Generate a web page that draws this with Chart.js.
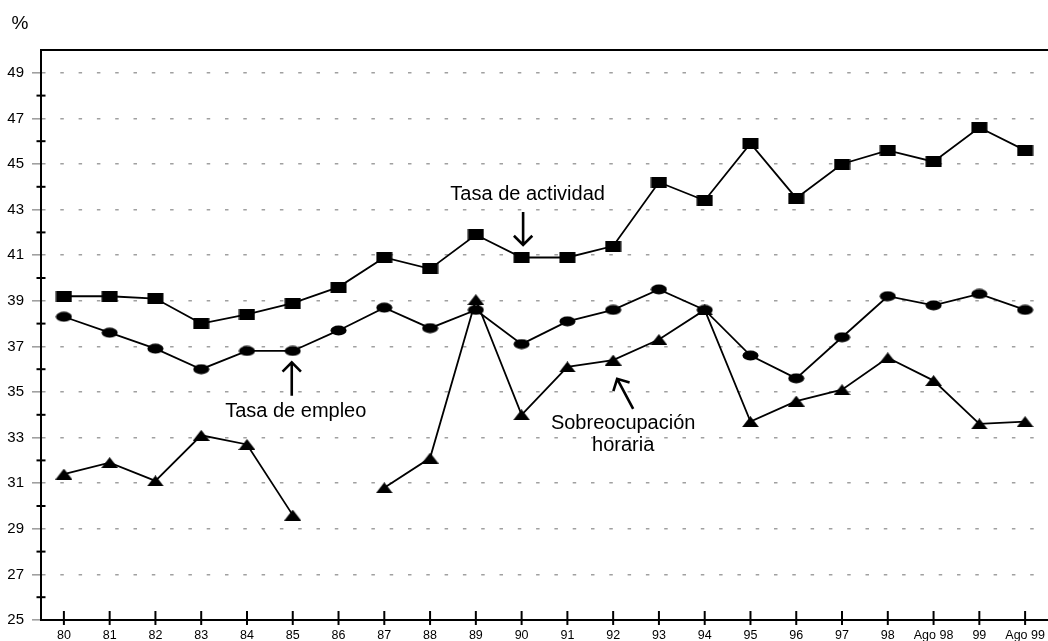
<!DOCTYPE html>
<html>
<head>
<meta charset="utf-8">
<script src="https://cdn.jsdelivr.net/npm/chart.js@4/dist/chart.umd.min.js"></script>
<style>
  html, body { margin: 0; padding: 0; background: #fff; overflow: hidden; width: 1048px; height: 641px; }
  #wrap { width: 1048px; height: 641px; position: absolute; left: 0; top: 0; }
  #c { display: block; }
</style>
</head>
<body>
<div id="wrap"><canvas id="c"></canvas></div>
<script>
const categories = ['80','81','82','83','84','85','86','87','88','89','90','91','92','93','94','95','96','97','98','Ago 98','99','Ago 99'];
const tasaActividad = [39.2, 39.2, 39.1, 38.0, 38.4, 38.9, 39.6, 40.9, 40.4, 41.9, 40.9, 40.9, 41.4, 44.2, 43.4, 45.9, 43.5, 45.0, 45.6, 45.1, 46.6, 45.6];
const tasaEmpleo = [38.3, 37.6, 36.9, 36.0, 36.8, 36.8, 37.7, 38.7, 37.8, 38.6, 37.1, 38.1, 38.6, 39.5, 38.6, 36.6, 35.6, 37.4, 39.2, 38.8, 39.3, 38.6];
const sobreocupacion = [31.4, 31.9, 31.1, 33.1, 32.7, 29.6, null, 30.8, 32.1, 39.05, 34.0, 36.1, 36.4, 37.3, 38.6, 33.7, 34.6, 35.1, 36.5, 35.5, 33.6, 33.7];
const yMin = 25, yMax = 50;

const FONT = "'Liberation Sans', Arial, sans-serif";

function marker(kind) {
  const c = document.createElement('canvas');
  c.width = 17; c.height = 11;
  const g = c.getContext('2d');
  g.fillStyle = '#000';
  g.beginPath();
  if (kind === 'rect') {
    g.rect(0.5, 0, 16, 11);
  } else if (kind === 'ellipse') {
    g.ellipse(8.5, 5.5, 8, 5, 0, 0, Math.PI * 2);
  } else {
    g.moveTo(8.5, 0); g.lineTo(17, 11); g.lineTo(0, 11); g.closePath();
  }
  g.fill();
  return c;
}

function arrow(ctx, x1, y1, x2, y2) {
  const ang = Math.atan2(y2 - y1, x2 - x1);
  const L = 13;
  ctx.beginPath();
  ctx.moveTo(x1, y1); ctx.lineTo(x2, y2);
  ctx.moveTo(x2 - L * Math.cos(ang - Math.PI / 4), y2 - L * Math.sin(ang - Math.PI / 4));
  ctx.lineTo(x2, y2);
  ctx.lineTo(x2 - L * Math.cos(ang + Math.PI / 4), y2 - L * Math.sin(ang + Math.PI / 4));
  ctx.stroke();
}

const decor = {
  id: 'decor',
  afterDraw(chart) {
    const { ctx, chartArea: a, scales: { x, y } } = chart;
    ctx.save();
    ctx.strokeStyle = '#000';
    ctx.lineWidth = 2;
    ctx.beginPath(); ctx.moveTo(a.left - 1, a.top); ctx.lineTo(chart.width, a.top); ctx.stroke();
    y.ticks.forEach(t => {
      if (t.value % 2 === 0 && t.value > yMin && t.value < yMax) {
        const py = y.getPixelForValue(t.value);
        ctx.beginPath(); ctx.moveTo(a.left - 4.5, py); ctx.lineTo(a.left + 4.5, py); ctx.stroke();
      }
    });
    x.ticks.forEach((t, i) => {
      const px = x.getPixelForTick(i);
      ctx.beginPath(); ctx.moveTo(px, a.bottom - 9); ctx.lineTo(px, a.bottom + 5); ctx.stroke();
    });
    ctx.fillStyle = '#000';
    ctx.font = '19px ' + FONT;
    ctx.textAlign = 'center';
    ctx.textBaseline = 'alphabetic';
    ctx.fillText('%', 20, 29);

    ctx.font = '20px ' + FONT;
    ctx.lineWidth = 2.6;
    const X = i => x.getPixelForValue(i);
    const Y = v => y.getPixelForValue(v);
    ctx.fillText('Tasa de actividad', X(10) + 6, Y(43.44));
    arrow(ctx, X(10) + 1.5, Y(42.9), X(10) + 1.5, Y(41.45));
    ctx.fillText('Tasa de empleo', X(5) + 3, Y(33.92));
    arrow(ctx, X(5) - 1, Y(34.84), X(5) - 1, Y(36.3));
    ctx.fillText('Sobreocupación', X(12) + 10, Y(33.38));
    ctx.fillText('horaria', X(12) + 10, Y(32.43));
    arrow(ctx, X(12) + 20, Y(34.26), X(12) + 4, Y(35.58));
    ctx.restore();
  }
};

const common = { borderColor: '#000', borderWidth: 1.8, pointRadius: 8, pointHoverRadius: 8, fill: false, tension: 0, spanGaps: false };

new Chart(document.getElementById('c'), {
  type: 'line',
  data: {
    labels: categories,
    datasets: [
      Object.assign({ label: 'Tasa de actividad', data: tasaActividad, pointStyle: marker('rect') }, common),
      Object.assign({ label: 'Tasa de empleo', data: tasaEmpleo, pointStyle: marker('ellipse') }, common),
      Object.assign({ label: 'Sobreocupación horaria', data: sobreocupacion, pointStyle: marker('tri') }, common)
    ]
  },
  options: {
    responsive: true,
    maintainAspectRatio: false,
    animation: false,
    clip: false,
    layout: { autoPadding: false, padding: { top: 50, left: 0, right: 0, bottom: 0 } },
    plugins: { legend: { display: false }, tooltip: { enabled: false }, title: { display: false } },
    scales: {
      x: {
        type: 'category',
        offset: true,
        afterFit: s => { s.height = 21; s.paddingLeft = 0; s.paddingRight = 0; },
        grid: { display: true, drawOnChartArea: false, drawTicks: true, tickLength: 5, tickColor: 'rgba(0,0,0,0)', offset: false },
        border: { display: true, color: '#000', width: 2 },
        ticks: { autoSkip: false, maxRotation: 0, minRotation: 0, padding: 3, color: '#000', font: { family: FONT, size: 12.5 } }
      },
      y: {
        type: 'linear',
        min: yMin, max: yMax,
        afterFit: s => { s.width = 41; s.paddingTop = 0; s.paddingBottom = 0; },
        ticks: {
          stepSize: 1, autoSkip: false, padding: 8, color: '#000',
          font: { family: FONT, size: 15 },
          callback: v => (v % 2 === 1 && v < yMax) ? String(v) : ''
        },
        grid: {
          display: true,
          drawTicks: true,
          tickLength: 9,
          lineWidth: 1.6,
          tickWidth: 1.6,
          tickBorderDash: [],
          color: c => (c.tick && c.tick.value % 2 === 1 && c.tick.value > yMin && c.tick.value < yMax) ? '#a0a0a0' : 'rgba(0,0,0,0)',
          tickColor: c => (c.tick && c.tick.value % 2 === 1 && c.tick.value < yMax) ? '#a0a0a0' : 'rgba(0,0,0,0)'
        },
        border: { display: true, color: '#000', width: 2, dash: [3.5, 14.8] }
      }
    }
  },
  plugins: [decor]
});
</script>
</body>
</html>
